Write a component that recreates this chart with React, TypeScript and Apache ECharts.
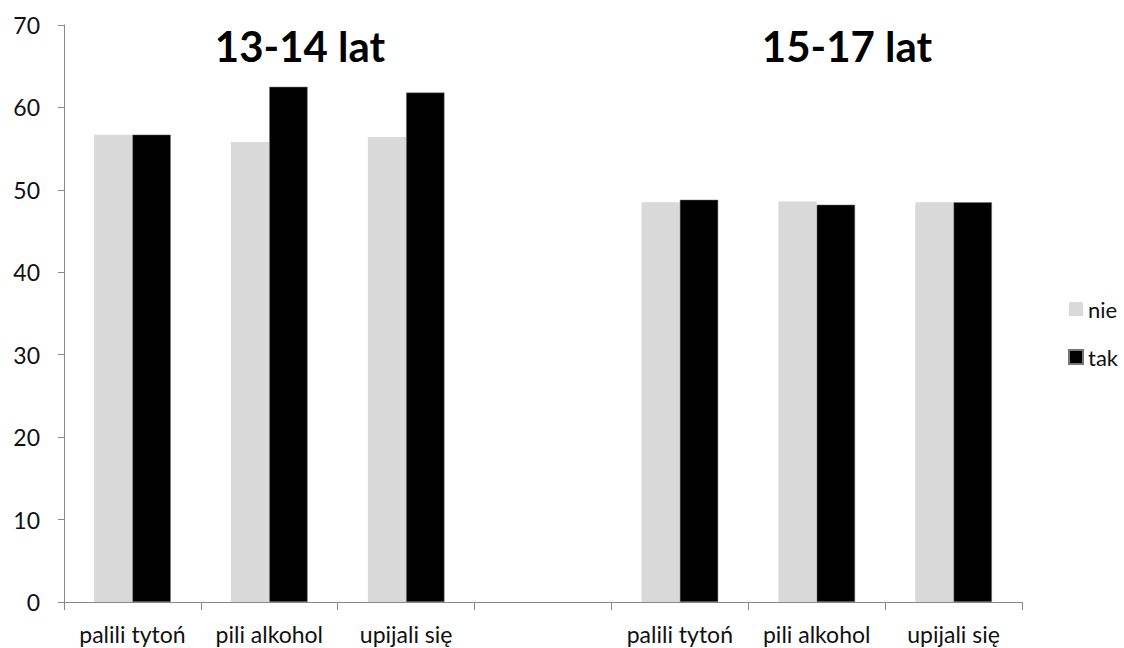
import React, { useEffect, useRef } from "react";
import * as echarts from "echarts";

const categories = ["palili tytoń", "pili alkohol", "upijali się", "", "palili tytoń", "pili alkohol", "upijali się"];
const nieValues: (number | string)[] = [56.7, 55.8, 56.4, "-", 48.5, 48.6, 48.5];
const takValues: (number | string)[] = [56.7, 62.5, 61.8, "-", 48.8, 48.2, 48.5];
const groupTitles = ["13-14 lat", "15-17 lat"];
const seriesNames = ["nie", "tak"];

const FONT = "Lato, 'Open Sans', sans-serif";

export default function App() {
  const ref = useRef<HTMLDivElement>(null);
  useEffect(() => {
    if (!ref.current) return;
    const chart = echarts.init(ref.current, undefined, { renderer: "svg" });
    chart.setOption({
      animation: false,
      backgroundColor: "#ffffff",
      textStyle: { fontFamily: FONT },
      title: [
        {
          text: groupTitles[0],
          left: 295,
          top: 20,
          textAlign: "center",
          textStyle: { fontSize: 42, fontWeight: "bold", color: "#000", fontFamily: FONT },
        },
        {
          text: groupTitles[1],
          left: 842,
          top: 20,
          textAlign: "center",
          textStyle: { fontSize: 42, fontWeight: "bold", color: "#000", fontFamily: FONT },
        },
      ],
      legend: {
        orient: "vertical",
        left: 1063,
        top: 293,
        itemWidth: 14,
        itemHeight: 14,
        itemGap: 26,
        icon: "rect",
        data: seriesNames,
        textStyle: { fontSize: 22, color: "#111", fontFamily: FONT },
      },
      grid: { left: 64, right: 102, top: 25, bottom: 46, containLabel: false },
      xAxis: {
        type: "category",
        data: categories,
        axisLine: { show: true, lineStyle: { color: "#888", width: 1 } },
        axisTick: { show: true, interval: 0, length: 8, lineStyle: { color: "#888" } },
        axisLabel: { interval: 0, fontSize: 23, color: "#111", margin: 20, fontFamily: FONT },
        splitLine: { show: false },
      },
      yAxis: {
        type: "value",
        min: 0,
        max: 70,
        interval: 10,
        axisLine: { show: true, lineStyle: { color: "#888", width: 1 } },
        axisTick: { show: true, length: 6, lineStyle: { color: "#888" } },
        axisLabel: { fontSize: 23, color: "#111", margin: 24, fontFamily: FONT },
        splitLine: { show: false },
      },
      series: [
        {
          name: seriesNames[0],
          type: "bar",
          data: nieValues,
          barGap: "0%",
          barCategoryGap: "44%",
          itemStyle: { color: "#d9d9d9" },
        },
        {
          name: seriesNames[1],
          type: "bar",
          data: takValues,
          barGap: "0%",
          barCategoryGap: "44%",
          itemStyle: { color: "#000000", borderColor: "#777", borderWidth: 0.5 },
        },
      ],
    });
    return () => chart.dispose();
  }, []);
  return (
    <div
      ref={ref}
      style={{ position: "absolute", left: 0, top: 0, width: 1124, height: 648 }}
    />
  );
}
